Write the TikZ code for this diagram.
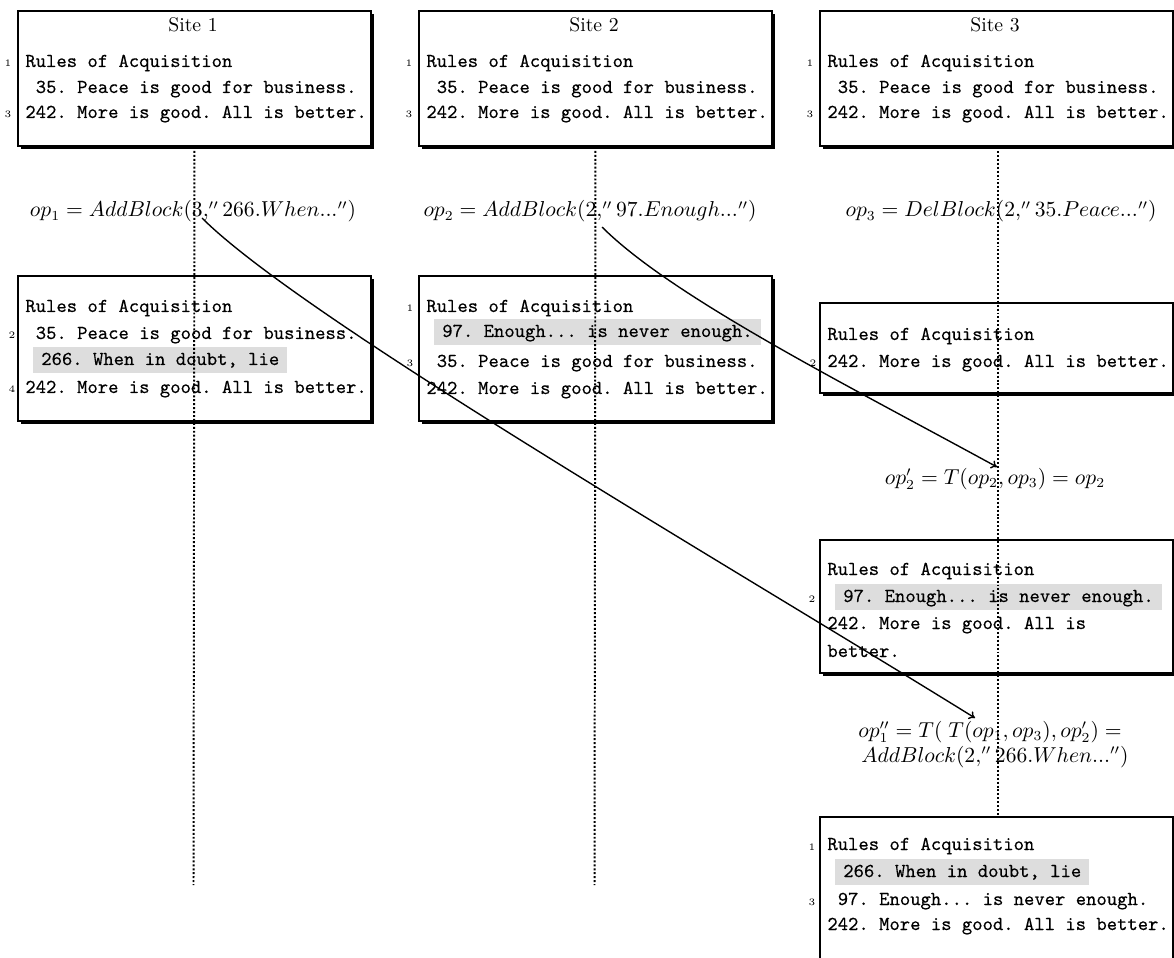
\documentclass[tikz,border=0pt]{standalone}
\usepackage{fontspec}
\setmonofont[FakeBold=0.3]{lmmono10-regular.otf}
\usetikzlibrary{shadows,arrows.meta}
\tikzset{
  sitebox/.style={draw, line width=1pt, fill=white, minimum width=179.1pt, inner sep=0pt, anchor=north west,
    general shadow={fill=black, shadow xshift=1.4pt, shadow yshift=-1.4pt}},
  tline/.style={anchor=base west, font=\ttfamily\frenchspacing, inner sep=0pt},
  hiline/.style={anchor=base west, font=\ttfamily\frenchspacing, fill=gray!27, inner xsep=4pt, inner ysep=2.5pt, text height=6.6pt, text depth=1.8pt},
  lnum/.style={anchor=base, font=\tiny, inner sep=0pt},
  sitetitle/.style={anchor=base, inner sep=0pt},
  oplabel/.style={anchor=base, inner sep=0pt, font=\fontsize{10.7}{12.8}\selectfont},
  lifeline/.style={line width=1pt, dash pattern=on 1pt off 1pt},
  oparrow/.style={-{To[length=3pt,width=4.5pt]}, line width=0.7pt},
}
\begin{document}
\begin{tikzpicture}[x=0.5074pt, y=-0.5074pt]
\useasboundingbox (0,0) rectangle (1174,958);
\clip (0,0) rectangle (1174,958);

% ---------- top boxes ----------
\node[sitebox, minimum height=68.5pt] (b1) at (17,10) {};
\node[sitebox, minimum height=68.5pt] (b2) at (418,10) {};
\node[sitebox, minimum height=68.5pt] (b3) at (819,10) {};

\node[sitetitle] (t1) at (193,32) {Site 1};
\node[sitetitle] (t2) at (594,32) {Site 2};
\node[sitetitle] (t3) at (995,32) {Site 3};

\node[lnum] (n1a) at (8,67) {1};
\node[tline] (r1a) at (25,67) {Rules of Acquisition};
\node[tline] (r1b) at (35.4,93) {35. Peace is good for business.};
\node[lnum] (n1c) at (8,118) {3};
\node[tline] (r1c) at (25,118) {242. More is good. All is better.};

\node[lnum] (n2a) at (409,67) {1};
\node[tline] (r2a) at (426,67) {Rules of Acquisition};
\node[tline] (r2b) at (436.4,93) {35. Peace is good for business.};
\node[lnum] (n2c) at (409,118) {3};
\node[tline] (r2c) at (426,118) {242. More is good. All is better.};

\node[lnum] (n3a) at (810,67) {1};
\node[tline] (r3a) at (827,67) {Rules of Acquisition};
\node[tline] (r3b) at (837.4,93) {35. Peace is good for business.};
\node[lnum] (n3c) at (810,118) {3};
\node[tline] (r3c) at (827,118) {242. More is good. All is better.};

% ---------- operation labels ----------
\node[oplabel] (op1) at (193,217) {$op_1 = AddBlock(3,''266.When...'')$};
\node[oplabel] (op2) at (590,217) {$op_2 = AddBlock(2,''97.Enough...'')$};
\node[oplabel] (op3) at (1001,217) {$op_3 = DelBlock(2,''35.Peace...'')$};

% ---------- second row boxes ----------
\node[sitebox, minimum height=73.6pt] (b1b) at (17,275) {};
\node[tline] (s1a) at (25,312) {Rules of Acquisition};
\node[lnum] (m1b) at (12,339) {2};
\node[tline] (s1b) at (35.4,339) {35. Peace is good for business.};
\node[hiline] (s1c) at (33,365) {266. When in doubt, lie};
\node[lnum] (m1d) at (12,393) {4};
\node[tline] (s1d) at (25,393) {242. More is good. All is better.};

\node[sitebox, minimum height=73.6pt] (b2b) at (418,275) {};
\node[lnum] (m2a) at (410,312) {1};
\node[tline] (s2a) at (426,312) {Rules of Acquisition};
\node[hiline] (s2b) at (434,337) {97. Enough... is never enough.};
\node[lnum] (m2c) at (410,367) {3};
\node[tline] (s2c) at (436.4,367) {35. Peace is good for business.};
\node[tline] (s2d) at (426,394) {242. More is good. All is better.};

\node[sitebox, minimum height=45.7pt] (b3b) at (819,302) {};
\node[tline] (s3a) at (827,340) {Rules of Acquisition};
\node[lnum] (m3b) at (813,367) {2};
\node[tline] (s3b) at (827,367) {242. More is good. All is better.};

% ---------- site 3 later states ----------
\node[oplabel] (op2p) at (995,484) {$op_2' = T(op_2, op_3) = op_2$};

\node[sitebox, minimum height=67.5pt] (b3c) at (819,539) {};
\node[tline] (u3a) at (827,575) {Rules of Acquisition};
\node[lnum] (k3b) at (812,602) {2};
\node[hiline] (u3b) at (835,602) {97. Enough... is never enough.};
\node[tline] (u3c) at (827,629) {242. More is good. All is};
\node[tline] (u3d) at (827,657) {better.};

\node[oplabel] (op1pp) at (990,737) {$op_1'' = T(\;T(op_1, op_3), op_2') =$};
\node[oplabel] (op1pq) at (995,762) {$AddBlock(2,''266.When...'')$};

\node[sitebox, minimum height=96.4pt] (b3d) at (819,816) {};
\node[lnum] (k4a) at (812,850) {1};
\node[tline] (v3a) at (827,850) {Rules of Acquisition};
\node[hiline] (v3b) at (835,877) {266. When in doubt, lie};
\node[lnum] (k4c) at (812,905) {3};
\node[tline] (v3c) at (837.4,905) {97. Enough... is never enough.};
\node[tline] (v3d) at (827,930) {242. More is good. All is better.};

% ---------- lifelines ----------
\coordinate (e1) at (193.5,885);
\coordinate (e2) at (594.5,885);
\draw[lifeline] (b1.south) -- (e1);
\draw[lifeline] (b2.south) -- (e2);
\draw[lifeline] ([xshift=0.76pt]b3.south) -- ([xshift=0.76pt]b3d.north);

% ---------- arrows ----------
\coordinate (a1s) at (202,218);
\coordinate (a1e) at (975,718);
\coordinate (a2s) at (602,227);
\coordinate (a2e) at (997,467);
\draw[oparrow] (a1s) .. controls (302,318) and (725,563) .. (a1e);
\draw[oparrow] (a2s) .. controls (672,297) and (847,385) .. (a2e);
\end{tikzpicture}
\end{document}
